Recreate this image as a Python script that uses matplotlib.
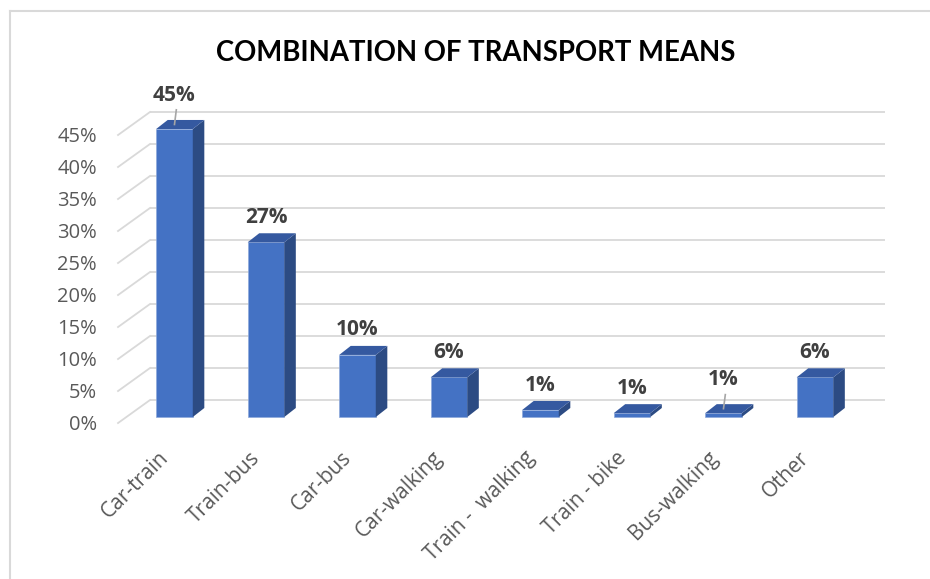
import matplotlib
matplotlib.use('Agg')
import matplotlib.pyplot as plt
from matplotlib.patches import Polygon
from matplotlib.lines import Line2D

# Dados
categorias = ['Car-train', 'Train-bus', 'Car-bus', 'Car-walking',
              'Train -  walking', 'Train - bike', 'Bus-walking', 'Other']
valores = [45.0, 27.3, 9.7, 6.2, 1.1, 0.6, 0.6, 6.2]
ticks_y = [0, 5, 10, 15, 20, 25, 30, 35, 40, 45]
titulo = 'COMBINATION OF TRANSPORT MEANS'

# Estilo
cor_frente = '#4472C4'
cor_lado = '#2C4B83'
cor_topo = '#3559A0'
cor_grade = '#D9D9D9'
cor_texto = '#595959'
cor_rotulo = '#404040'
largura = 0.4
prof_x, prof_y = 0.126, 1.41          # profundidade das barras
parede_x0, parede_x1 = -0.617, -0.268  # parede lateral (frente, fundo)
piso_frente, piso_fundo = -0.94, 2.65
fim_grade = 7.765
com_guia = {0: 5.3, 6: 5.2}           # rótulos afastados com linha guia
fonte = ['Open Sans', 'DejaVu Sans']

fig = plt.figure(figsize=(9.3, 5.79), dpi=100)
ax = fig.add_axes([100 / 930, 1 - 440 / 579, 800 / 930, 340 / 579])
ax.set_xlim(-0.814, 7.929)
ax.set_ylim(-3.59, 49.53)
ax.axis('off')

# Grade (parede do fundo + parede lateral)
for t in ticks_y:
    ax.plot([parede_x1, fim_grade], [t + piso_fundo, t + piso_fundo],
            color=cor_grade, lw=1.3, zorder=1, solid_capstyle='butt')
    ax.plot([parede_x0, parede_x1], [t + piso_frente, t + piso_fundo],
            color=cor_grade, lw=1.3, zorder=1)
    ax.text(parede_x0 - 0.23, t + piso_frente - 0.3, f'{t}%', ha='right', va='center',
            fontsize=14.5, color=cor_texto, family=fonte, clip_on=False)

# Barras
xs = list(range(len(valores)))
ax.bar(xs, valores, width=largura, color=cor_frente, edgecolor='#8EA9DB',
       linewidth=0.5, zorder=3)
for i, v in zip(xs, valores):
    x0, x1 = i - largura / 2, i + largura / 2
    lado = Polygon([(x1, 0), (x1 + prof_x, prof_y), (x1 + prof_x, v + prof_y), (x1, v)],
                   closed=True, facecolor=cor_lado, edgecolor='none', zorder=3)
    topo = Polygon([(x0, v), (x1, v), (x1 + prof_x, v + prof_y), (x0 + prof_x, v + prof_y)],
                   closed=True, facecolor=cor_topo, edgecolor='none', zorder=3)
    ax.add_patch(lado)
    ax.add_patch(topo)

    off = com_guia.get(i, 3.9)
    ax.text(i, v + off, f'{round(v)}%', ha='center', va='center', fontsize=15,
            fontweight='bold', color=cor_rotulo, family=fonte, zorder=5)
    if i in com_guia:
        ax.plot([i + 0.02, i], [v + off - 2.3, v + prof_y / 2], color='#A6A6A6',
                lw=1.2, zorder=4)

    ax.text(i - 0.1, -5.9, categorias[i], ha='right', va='center', rotation=45,
            rotation_mode='anchor', fontsize=15, color=cor_texto,
            family=fonte, clip_on=False)

fig.text(0.512, 1 - 53 / 579, titulo, ha='center', va='center', fontsize=19.8,
         fontweight='bold', color='black', family=['Lato', 'DejaVu Sans'])

# Borda do gráfico
fig.add_artist(Line2D([10 / 930, 1], [1 - 11 / 579, 1 - 11 / 579],
                      transform=fig.transFigure, color=cor_grade, lw=1.5))
fig.add_artist(Line2D([10 / 930, 10 / 930], [0, 1 - 11 / 579],
                      transform=fig.transFigure, color=cor_grade, lw=1.5))

fig.savefig('out.png', dpi=100)
